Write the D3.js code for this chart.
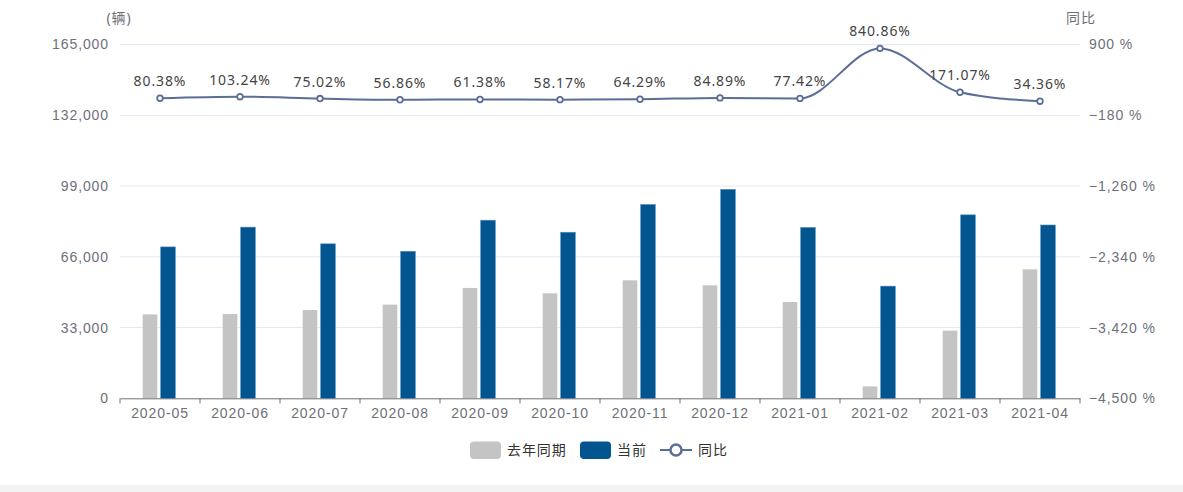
<!DOCTYPE html>
<html>
<head>
<meta charset="utf-8">
<script src="https://cdn.jsdelivr.net/npm/d3@7"></script>
<style>
  html, body { margin: 0; padding: 0; background: #fff; }
  body { width: 1183px; height: 492px; overflow: hidden; font-family: "Noto Sans", "Noto Sans CJK SC", sans-serif; }
  .strip { position: absolute; left: 0; top: 485px; width: 1183px; height: 7px; background: #f3f3f3; }
  svg text { letter-spacing: 0.9px; }
</style>
</head>
<body>
<div id="chart"></div>
<div class="strip"></div>
<script>
// data
const months = ["2020-05", "2020-06", "2020-07", "2020-08", "2020-09", "2020-10",
                "2020-11", "2020-12", "2021-01", "2021-02", "2021-03", "2021-04"];
const lastYear = [39140, 39280, 41160, 43690, 51470, 48960, 55020, 52690, 44900, 5560, 31560, 60150];
const current  = [70600, 79830, 72040, 68560, 83060, 77440, 90390, 97420, 79660, 52310, 85550, 80820];
const yoy      = [80.38, 103.24, 75.02, 56.86, 61.38, 58.17, 64.29, 84.89, 77.42, 840.86, 171.07, 34.36];
const leftTicks  = [0, 33000, 66000, 99000, 132000, 165000];
const rightTicks = [-4500, -3420, -2340, -1260, -180, 900];

const WIDTH = 1183, HEIGHT = 492;
const LEFT = 120, RIGHT = 1080, TOP = 44.5, BOTTOM = 398.3;
const GRAY = "#c4c4c4", BLUE = "#02558f", LINE = "#5b6e96";
const AXIS_TEXT = "#6e7079";

const svg = d3.select("#chart")
    .append("svg")
    .attr("width", WIDTH)
    .attr("height", HEIGHT)
    .style("font-family", "'Noto Sans', 'Noto Sans CJK SC', sans-serif");

const x = d3.scaleBand().domain(months).range([LEFT, RIGHT]);
const yLeft = d3.scaleLinear().domain([0, 165000]).range([BOTTOM, TOP]);
const yRight = d3.scaleLinear().domain([-4500, 900]).range([BOTTOM, TOP]);

// grid lines
svg.append("g")
    .selectAll("line")
    .data(leftTicks.slice(1))
    .enter()
    .append("line")
    .attr("x1", LEFT)
    .attr("x2", RIGHT)
    .attr("y1", d => yLeft(d))
    .attr("y2", d => yLeft(d))
    .attr("stroke", "#e6e8f5")
    .attr("stroke-width", 1);

// left axis
const leftAxis = svg.append("g")
    .attr("transform", `translate(${LEFT},0)`)
    .call(d3.axisLeft(yLeft).tickValues(leftTicks).tickFormat(d3.format(",")).tickSize(0).tickPadding(11));
leftAxis.select(".domain").remove();
leftAxis.selectAll("text")
    .attr("fill", AXIS_TEXT)
    .style("font-size", "14px")
    .style("font-family", "inherit");

// right axis
const rightAxis = svg.append("g")
    .attr("transform", `translate(${RIGHT},0)`)
    .call(d3.axisRight(yRight).tickValues(rightTicks).tickFormat(d => d3.format(",")(d) + " %").tickSize(0).tickPadding(9));
rightAxis.select(".domain").remove();
rightAxis.selectAll("text")
    .attr("fill", AXIS_TEXT)
    .style("font-size", "14px")
    .style("font-family", "inherit");

// axis names
svg.append("text")
    .attr("x", 119)
    .attr("y", 23)
    .attr("text-anchor", "middle")
    .attr("fill", AXIS_TEXT)
    .style("font-size", "14px")
    .text("(辆)");
svg.append("text")
    .attr("x", 1081)
    .attr("y", 23)
    .attr("text-anchor", "middle")
    .attr("fill", AXIS_TEXT)
    .style("font-size", "14px")
    .text("同比");

// bars
const barW = 14.6;
svg.append("g")
    .selectAll("rect")
    .data(months)
    .enter()
    .append("rect")
    .attr("x", (d) => x(d) + x.bandwidth() / 2 - 17.3)
    .attr("y", (d, i) => yLeft(lastYear[i]))
    .attr("width", barW)
    .attr("height", (d, i) => BOTTOM - yLeft(lastYear[i]))
    .attr("fill", GRAY);

svg.append("g")
    .selectAll("rect")
    .data(months)
    .enter()
    .append("rect")
    .attr("x", (d) => x(d) + x.bandwidth() / 2 + 0.7)
    .attr("y", (d, i) => yLeft(current[i]))
    .attr("width", barW)
    .attr("height", (d, i) => BOTTOM - yLeft(current[i]))
    .attr("fill", BLUE)
    .attr("stroke", "#4f8cbb")
    .attr("stroke-width", 0.6);

// x axis
const xAxis = svg.append("g")
    .attr("transform", `translate(0,${BOTTOM})`)
    .call(d3.axisBottom(x).tickSize(0).tickPadding(10));
xAxis.select(".domain").attr("stroke", "#6e7079");
xAxis.selectAll("text")
    .attr("fill", AXIS_TEXT)
    .style("font-size", "14px")
    .style("font-family", "inherit");
xAxis.selectAll(".edge")
    .data(d3.range(months.length + 1))
    .enter()
    .append("line")
    .attr("class", "edge")
    .attr("x1", i => LEFT + i * x.step())
    .attr("x2", i => LEFT + i * x.step())
    .attr("y1", 0)
    .attr("y2", 5)
    .attr("stroke", "#6e7079");

// yoy line
const cx = d => x(d) + x.bandwidth() / 2;
const line = d3.line()
    .x((d, i) => cx(months[i]))
    .y(d => yRight(d))
    .curve(d3.curveMonotoneX);

svg.append("path")
    .datum(yoy)
    .attr("d", line)
    .attr("fill", "none")
    .attr("stroke", LINE)
    .attr("stroke-width", 2);

svg.append("g")
    .selectAll("circle")
    .data(yoy)
    .enter()
    .append("circle")
    .attr("cx", (d, i) => cx(months[i]))
    .attr("cy", d => yRight(d))
    .attr("r", 2.8)
    .attr("fill", "#fff")
    .attr("stroke", LINE)
    .attr("stroke-width", 1.8);

svg.append("g")
    .selectAll("text")
    .data(yoy)
    .enter()
    .append("text")
    .attr("x", (d, i) => cx(months[i]))
    .attr("y", d => yRight(d) - 12)
    .attr("text-anchor", "middle")
    .attr("fill", "#444")
    .style("font-size", "14px")
    .text(d => d.toFixed(2) + "%");

// legend
const legend = svg.append("g").style("font-size", "14px");
legend.append("rect").attr("x", 470).attr("y", 441.5).attr("width", 31).attr("height", 17.5).attr("rx", 4).attr("fill", GRAY);
legend.append("text").attr("x", 507).attr("y", 455).attr("fill", "#333").text("去年同期");
legend.append("rect").attr("x", 580).attr("y", 441.5).attr("width", 31).attr("height", 17.5).attr("rx", 4).attr("fill", BLUE);
legend.append("text").attr("x", 617).attr("y", 455).attr("fill", "#333").text("当前");
legend.append("line").attr("x1", 660).attr("x2", 692).attr("y1", 450).attr("y2", 450).attr("stroke", LINE).attr("stroke-width", 2);
legend.append("circle").attr("cx", 676).attr("cy", 450).attr("r", 5.5).attr("fill", "#fff").attr("stroke", LINE).attr("stroke-width", 2.5);
legend.append("text").attr("x", 698).attr("y", 455).attr("fill", "#333").text("同比");
</script>
</body>
</html>
